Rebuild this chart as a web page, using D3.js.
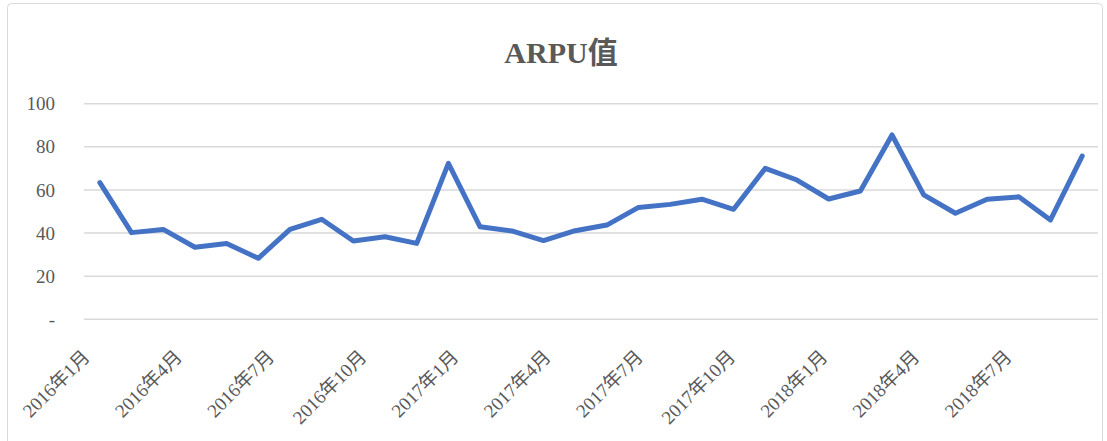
<!DOCTYPE html>
<html>
<head>
<meta charset="utf-8">
<script src="https://cdn.jsdelivr.net/npm/d3@7"></script>
<style>
  html, body { margin: 0; padding: 0; background: #fff; }
  svg text { font-family: "Times New Roman", "Liberation Serif", "Noto Sans CJK SC", serif; }
</style>
</head>
<body>
<svg id="chart" width="1107" height="441"></svg>
<script>
// Monthly ARPU, Jan 2016 – Aug 2018
const months = [
  "2016年1月","2016年2月","2016年3月","2016年4月","2016年5月","2016年6月",
  "2016年7月","2016年8月","2016年9月","2016年10月","2016年11月","2016年12月",
  "2017年1月","2017年2月","2017年3月","2017年4月","2017年5月","2017年6月",
  "2017年7月","2017年8月","2017年9月","2017年10月","2017年11月","2017年12月",
  "2018年1月","2018年2月","2018年3月","2018年4月","2018年5月","2018年6月",
  "2018年7月","2018年8月"
];
const arpu = [
  63.4, 40.2, 41.7, 33.4, 35.2, 28.3,
  41.7, 46.4, 36.3, 38.3, 35.2, 72.3,
  42.9, 41.0, 36.5, 41.1, 43.7, 51.9,
  53.3, 55.7, 51.0, 70.0, 64.6, 55.8,
  59.5, 85.5, 57.7, 49.2, 55.7, 56.8,
  46.1, 75.7
];
const yTicks = [0, 20, 40, 60, 80, 100];
const xTickLabels = [
  "2016年1月","2016年4月","2016年7月","2016年10月",
  "2017年1月","2017年4月","2017年7月","2017年10月",
  "2018年1月","2018年4月","2018年7月"
];
const title = "ARPU值";

const svg = d3.select("#chart");
const plot = { left: 84, right: 1098, top: 103.7, bottom: 319.3 };

// outer chart frame
svg.append("rect")
  .attr("x", 7.5).attr("y", 3.5)
  .attr("width", 1095).attr("height", 445)
  .attr("rx", 4)
  .attr("fill", "#fff")
  .attr("stroke", "#d9d9d9").attr("stroke-width", 1);

const x = d3.scaleBand().domain(months).range([plot.left, plot.right]);
const y = d3.scaleLinear().domain([0, 100]).range([plot.bottom, plot.top]);

// horizontal gridlines
svg.append("g")
  .selectAll("line")
  .data(yTicks)
  .join("line")
  .attr("x1", plot.left).attr("x2", plot.right)
  .attr("y1", d => y(d)).attr("y2", d => y(d))
  .attr("stroke", "#d9d9d9").attr("stroke-width", 1.6);

// y axis labels (zero shown as a dash)
const yAxis = d3.axisLeft(y)
  .tickValues(yTicks)
  .tickSize(0)
  .tickPadding(0)
  .tickFormat(d => d === 0 ? "-" : d3.format("d")(d));
const gy = svg.append("g").attr("transform", "translate(55,0)").call(yAxis);
gy.select(".domain").remove();
gy.selectAll("text")
  .attr("fill", "#595959")
  .style("font-size", "19px")
  .attr("dy", "0.32em");

// x axis category labels, rotated, every third month
const labelPos = d3.scalePoint()
  .domain(xTickLabels)
  .range([91, 1013]);
const gx = svg.append("g").attr("transform", "translate(0,358)");
gx.selectAll("text")
  .data(xTickLabels)
  .join("text")
  .attr("transform", d => `translate(${labelPos(d)},0) rotate(-45)`)
  .attr("text-anchor", "end")
  .attr("fill", "#595959")
  .style("font-size", "19px")
  .text(d => d);

// the series line
const line = d3.line()
  .x((d, i) => x(months[i]) + x.bandwidth() / 2)
  .y(d => y(d));
svg.append("path")
  .datum(arpu)
  .attr("d", line)
  .attr("fill", "none")
  .attr("stroke", "#4472c4")
  .attr("stroke-width", 5)
  .attr("stroke-linejoin", "round")
  .attr("stroke-linecap", "round");

// title
svg.append("text")
  .attr("x", 561).attr("y", 63)
  .attr("text-anchor", "middle")
  .attr("fill", "#595959")
  .style("font-size", "30px")
  .style("font-weight", "bold")
  .text(title);
</script>
</body>
</html>
